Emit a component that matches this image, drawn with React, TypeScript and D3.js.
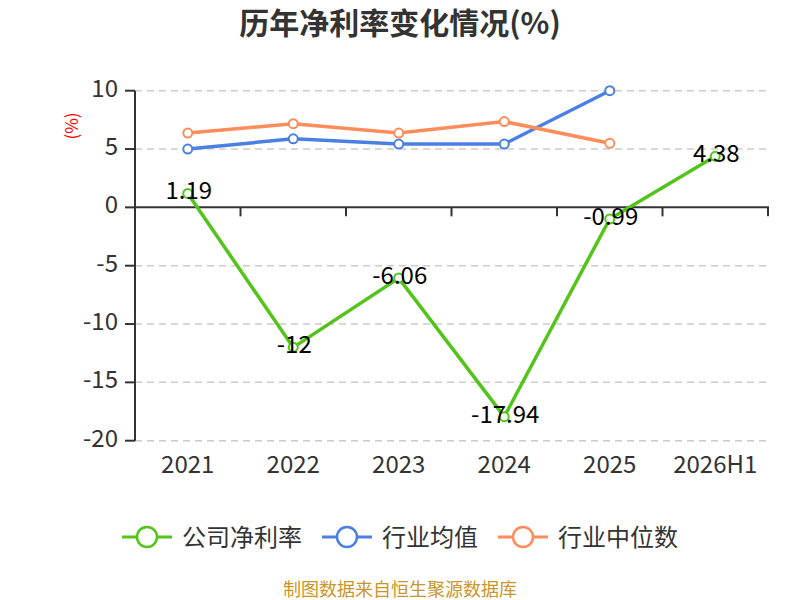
import React, { useEffect } from "react";
import * as d3 from "d3";

const categories = ["2021", "2022", "2023", "2024", "2025", "2026H1"];
const companyRate = [1.19, -12, -6.06, -17.94, -0.99, 4.38];
const industryAvg = [5.0, 5.88, 5.43, 5.43, 10.0];
const industryMedian = [6.37, 7.17, 6.37, 7.35, 5.49];
const yTicks = [10, 5, 0, -5, -10, -15, -20];
const seriesNames = ["公司净利率", "行业均值", "行业中位数"];
const seriesColors = ["#52c41a", "#4a80e2", "#ff8c5a"];

const W = 800;
const H = 600;
const left = 135;
const right = 768;
const top = 90.7;
const bottom = 440.7;
const FONT = '"Noto Sans CJK SC", "Noto Sans", sans-serif';

export default function App() {
  useEffect(() => {
    document.body.style.margin = "0";
  }, []);

  const x = d3.scaleBand<string>().domain(categories).range([left, right]);
  const y = d3.scaleLinear().domain([-20, 10]).range([bottom, top]);
  const cx = (c: string) => (x(c) as number) + x.bandwidth() / 2;

  const line = d3
    .line<number>()
    .x((_, i) => cx(categories[i]))
    .y((d) => y(d));

  const allSeries = [companyRate, industryAvg, industryMedian];

  const legendWidths = [120, 96, 120];
  const symW = 50;
  const totalLegend =
    legendWidths.reduce((a, b) => a + b, 0) + 3 * (symW + 10) + 2 * 20;
  let lx = W / 2 - totalLegend / 2;
  const legendItems = seriesNames.map((n, i) => {
    const item = { x: lx, name: n, color: seriesColors[i] };
    lx += symW + 10 + legendWidths[i] + 20;
    return item;
  });

  const boundaries = d3.range(categories.length + 1).map((i) => left + i * x.bandwidth());

  return (
    <svg width={W} height={H} style={{ display: "block", fontFamily: FONT }}>
      <rect width={W} height={H} fill="#fff" />
      <text x={400} y={34} textAnchor="middle" fontSize={30} fontWeight="bold" fill="#333">
        历年净利率变化情况(%)
      </text>
      <text
        transform={`translate(78,126) rotate(-90)`}
        textAnchor="middle"
        fontSize={17}
        fill="#ff0000"
      >
        (%)
      </text>
      {/* grid */}
      {yTicks
        .filter((t) => t !== 0)
        .map((t) => (
          <line
            key={t}
            x1={left}
            x2={right}
            y1={y(t)}
            y2={y(t)}
            stroke="#cccccc"
            strokeWidth={1.5}
            strokeDasharray="7,5"
          />
        ))}
      {/* y axis */}
      <line x1={left} x2={left} y1={top} y2={bottom} stroke="#333" strokeWidth={2} />
      {yTicks.map((t) => (
        <g key={t}>
          <line x1={left - 10} x2={left} y1={y(t)} y2={y(t)} stroke="#333" strokeWidth={2} />
          <text x={left - 17} y={y(t) + 6} textAnchor="end" fontSize={24} fill="#333">
            {t}
          </text>
        </g>
      ))}
      {/* x axis */}
      <line x1={left} x2={right + 1} y1={y(0)} y2={y(0)} stroke="#333" strokeWidth={2} />
      {boundaries.map((b, i) => (
        <line key={i} x1={b} x2={b} y1={y(0)} y2={y(0) + 9} stroke="#333" strokeWidth={2} />
      ))}
      {categories.map((c) => (
        <text key={c} x={cx(c)} y={473} textAnchor="middle" fontSize={24} fill="#333">
          {c}
        </text>
      ))}
      {/* series */}
      {allSeries.map((s, si) => (
        <g key={si}>
          <path d={line(s) as string} fill="none" stroke={seriesColors[si]} strokeWidth={3.5} />
          {s.map((v, i) => (
            <circle
              key={i}
              cx={cx(categories[i])}
              cy={y(v)}
              r={4.5}
              fill="#fff"
              stroke={seriesColors[si]}
              strokeWidth={2}
            />
          ))}
        </g>
      ))}
      {companyRate.map((v, i) => (
        <text
          key={i}
          x={cx(categories[i]) + 1}
          y={y(v) + 6}
          textAnchor="middle"
          fontSize={24}
          fill="#000"
        >
          {v}
        </text>
      ))}
      {/* legend */}
      {legendItems.map((it, i) => (
        <g key={i}>
          <line x1={it.x} x2={it.x + symW} y1={537} y2={537} stroke={it.color} strokeWidth={3} />
          <circle cx={it.x + symW / 2} cy={537} r={10} fill="#fff" stroke={it.color} strokeWidth={2.5} />
          <text x={it.x + symW + 10} y={545.5} fontSize={24} fill="#333">
            {it.name}
          </text>
        </g>
      ))}
      <text x={400} y={596} textAnchor="middle" fontSize={18} fill="#c8962a">
        制图数据来自恒生聚源数据库
      </text>
    </svg>
  );
}
